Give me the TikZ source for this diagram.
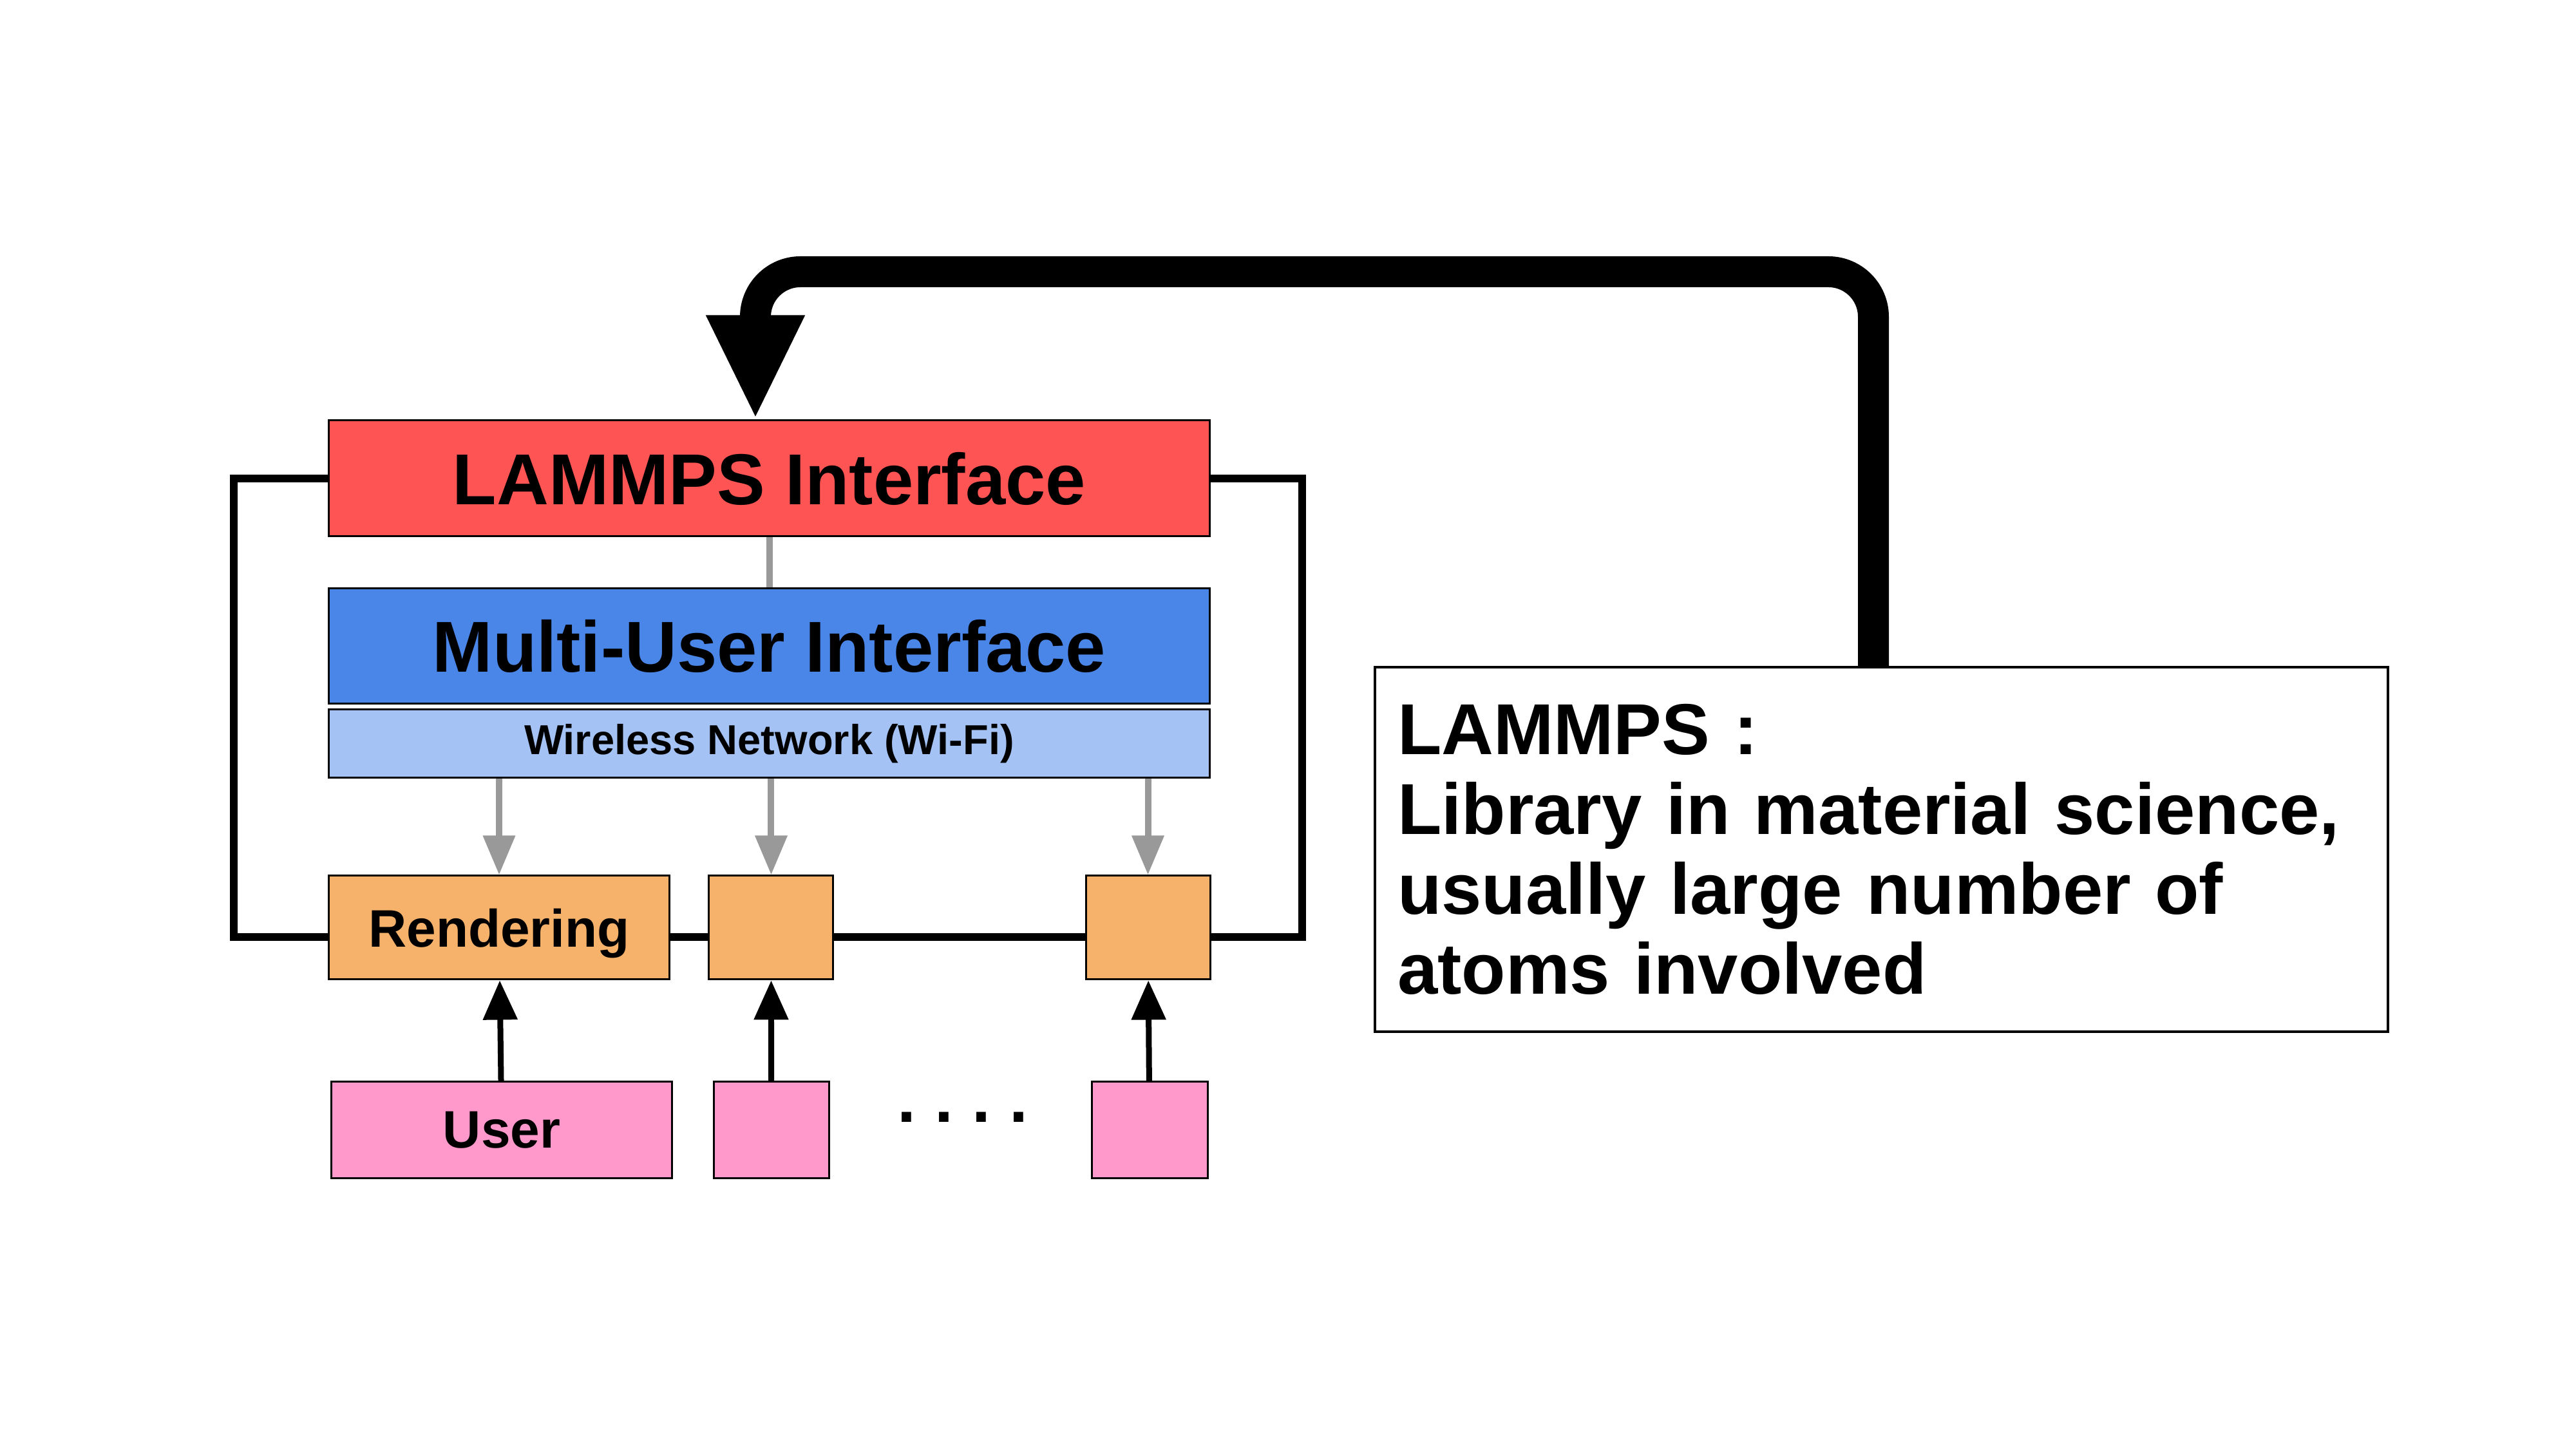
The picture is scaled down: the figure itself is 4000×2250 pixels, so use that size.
\documentclass[tikz,border=0pt]{standalone}
\usepackage{fontspec}
\setmainfont{Liberation Sans}
\usepackage{xcolor}
\usetikzlibrary{arrows.meta,positioning}

\definecolor{lmpred}{RGB}{255,84,84}
\definecolor{muiblue}{RGB}{74,134,232}
\definecolor{wifiblue}{RGB}{164,194,244}
\definecolor{renorange}{RGB}{246,178,107}
\definecolor{usrpink}{RGB}{255,153,204}
\definecolor{netgray}{RGB}{153,153,153}

\tikzset{
  layerbox/.style={draw=black, line width=0.3pt, inner sep=0pt, minimum width=136.9pt},
  rendbox/.style={draw=black, line width=0.3pt, inner sep=0pt, fill=renorange, minimum height=16.1pt, text depth=0pt},
  userbox/.style={draw=black, line width=0.3pt, inner sep=0pt, fill=usrpink, minimum height=15pt},
  bigfont/.style={font=\fontsize{11.2}{13}\selectfont\bfseries},
  midfont/.style={font=\fontsize{8.2}{10}\selectfont\bfseries},
  loopline/.style={line width=1.25pt},
  netline/.style={draw=netgray, line width=1pt},
  netarrow/.style={netline, -{Triangle[width=4.8pt,length=6.1pt]}},
  userarrow/.style={line width=0.9pt, -{Triangle[width=5.2pt,length=6.1pt]}},
  feedback/.style={line width=4.8pt, rounded corners=7pt, -{Triangle[width=14.1pt,length=16.2pt]}}
}

\begin{document}
\begin{tikzpicture}[x=0.1pt,y=-0.1pt]
\useasboundingbox (0,0) rectangle (4000,2250);

%Layers
\node[layerbox, fill=lmpred, minimum height=18pt, bigfont] (lmp) at (1194.5,743) {LAMMPS Interface};
\node[layerbox, fill=muiblue, minimum height=17.9pt, bigfont, below=7.8pt of lmp] (mui) {Multi-User Interface};
\node[layerbox, fill=wifiblue, minimum height=10.6pt, font=\fontsize{6.5}{8}\selectfont\bfseries, below=0.6pt of mui] (wifi) {Wireless Network (Wi-Fi)};

%Rendering clients
\node[rendbox, minimum width=53pt, midfont] (ren) at (775,1440.5) {Rendering};
\node[rendbox, minimum width=19.3pt, right=5.8pt of ren] (rn2) {};
\node[rendbox, minimum width=19.3pt] (rn3) at (1782.5,1440.5) {};

%Users
\node[userbox, minimum width=53pt, midfont] (usr) at (779,1755) {User};
\node[userbox, minimum width=17.9pt] (us2) at (1197.5,1755) {};
\node[userbox, minimum width=18pt] (us3) at (1785,1755) {};
\node[font=\fontsize{10.4}{12}\selectfont\bfseries\frenchspacing] (dots) at (1495,1735) {. . . .};

%Note
\node[draw=black, line width=0.4pt, minimum width=157.3pt, minimum height=56.6pt, inner xsep=3.5pt,
      text width=150.3pt, align=left, font=\fontsize{11.2}{12.4}\selectfont\bfseries] (note) at (2921.5,1319)
      {LAMMPS :\\Library in material science,\\usually large number of\\atoms involved};

%Loop line
\coordinate (loopL) at (363,1455);
\coordinate (loopR) at (2022,1455);
\draw[loopline] (lmp.west) -| (loopL) -- (loopL -| ren.west);
\draw[loopline] (ren.east |- loopL) -- (rn2.west |- loopL);
\draw[loopline] (rn2.east |- loopL) -- (rn3.west |- loopL);
\draw[loopline] (rn3.east |- loopL) -- (loopR) |- (lmp.east);

%Network
\draw[netline] (lmp.south) -- (mui.north);
\draw[netarrow] (wifi.south -| ren.north) -- (ren.north);
\draw[netarrow] (wifi.south -| rn2.north) -- (rn2.north);
\draw[netarrow] (wifi.south -| rn3.north) -- (rn3.north);

%User input
\draw[userarrow] (usr) -- (ren);
\draw[userarrow] (us2) -- (rn2);
\draw[userarrow] (us3) -- (rn3);

%Feedback arrow
\coordinate (turnR) at (2909,422);
\coordinate (turnL) at (1173,422);
\draw[feedback] (turnR |- note.north) -- (turnR) -- (turnL) -- (turnL |- lmp.north);

\end{tikzpicture}
\end{document}
